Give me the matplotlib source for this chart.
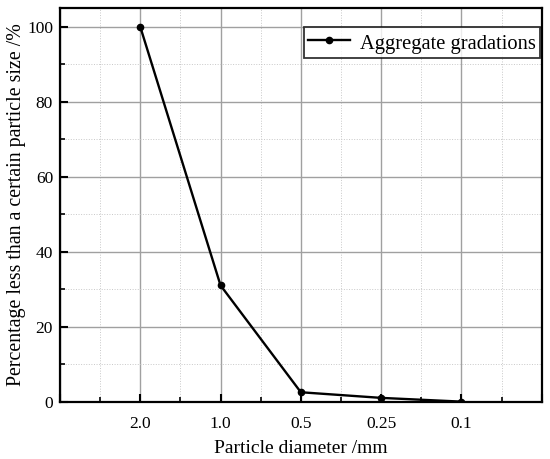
import matplotlib.pyplot as plt
import numpy as np

# gradation data
sizes = ["2.0", "1.0", "0.5", "0.25", "0.1"]
passing = [100, 31, 2.5, 1.0, 0]

plt.rcParams.update({
    "font.family": "Liberation Serif",
    "font.size": 12,
    "xtick.direction": "in",
    "ytick.direction": "in",
})

fig = plt.figure(figsize=(5.5, 4.59), dpi=100)
ax = fig.add_axes([0.109, 0.125, 0.876, 0.8576])

x = np.arange(1, len(sizes) + 1)
ax.plot(x, passing, color="black", marker="o", markersize=4.5, linewidth=1.7,
        label="Aggregate gradations", zorder=3)

ax.set_xlim(0, len(sizes) + 1)
ax.set_ylim(0, 105)
ax.set_xticks(np.arange(0, len(sizes) + 2))
ax.set_xticklabels([""] + sizes + [""])
ax.set_xticks(np.arange(0.5, len(sizes) + 1, 1), minor=True)
ax.set_yticks(np.arange(0, 101, 20))
ax.set_yticks(np.arange(10, 101, 20), minor=True)

ax.grid(True, which="major", color="#a0a0a0", linewidth=1.0, linestyle="-")
ax.grid(True, which="minor", color="#c8c8c8", linewidth=0.7, linestyle=":")
ax.set_axisbelow(True)

ax.tick_params(which="major", length=6, width=1.5, labelsize=12.5, pad=10)
ax.tick_params(which="minor", length=3.5, width=1.2)
ax.tick_params(axis="y", pad=5)
for s in ax.spines.values():
    s.set_linewidth(1.6)

ax.set_xlabel("Particle diameter /mm", fontsize=14, labelpad=6)
ax.set_ylabel("Percentage less than a certain particle size /%", fontsize=14.3, labelpad=1)

leg = ax.legend(loc="upper right", fontsize=14.8, frameon=True, fancybox=False,
                edgecolor="black", borderaxespad=0, handlelength=2.0,
                handleheight=1.3, handletextpad=0.5, borderpad=0.2,
                bbox_to_anchor=(0.996, 0.952))
leg.get_frame().set_linewidth(1.3)

fig.savefig("out.png", dpi=100)
